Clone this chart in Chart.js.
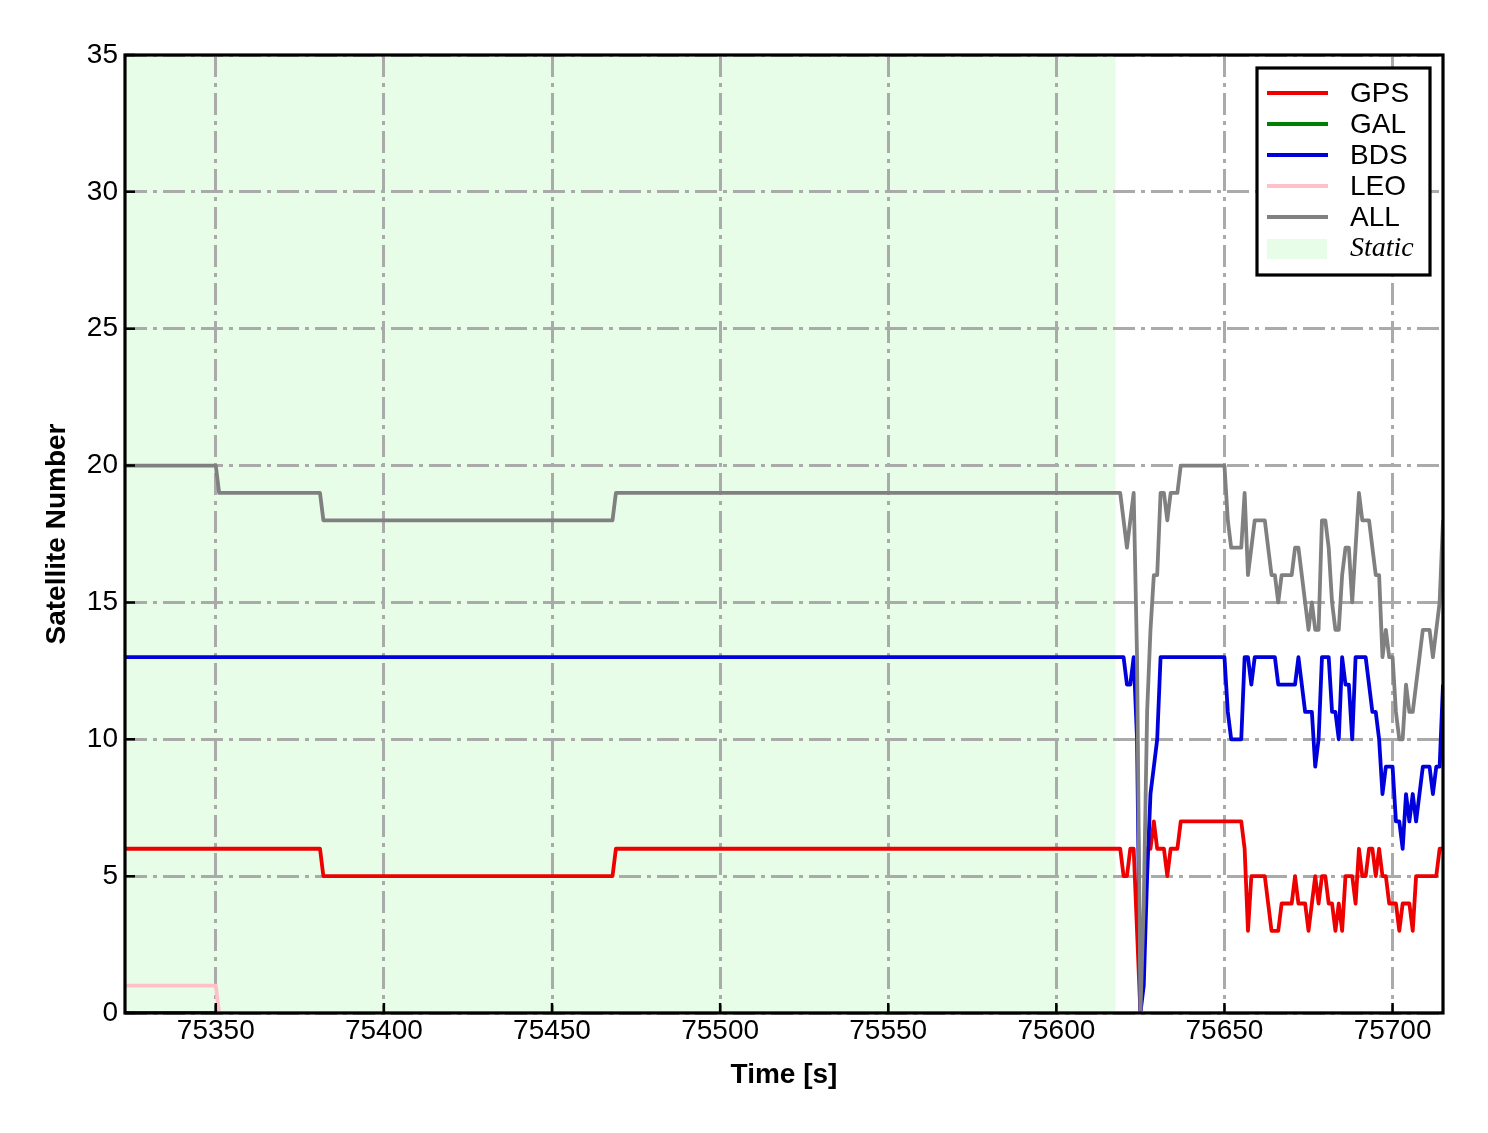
<!DOCTYPE html>
<html>
<head>
<meta charset="utf-8">
<script src="https://cdn.jsdelivr.net/npm/chart.js@4.4.1/dist/chart.umd.min.js"></script>
<style>
  html, body { margin: 0; padding: 0; background: #fff; }
  #wrap { width: 1488px; height: 1133px; }
</style>
</head>
<body>
<div id="wrap"><canvas id="c" width="1488" height="1133"></canvas></div>
<script>
// epochs (s); static part only at the breakpoints, then every second
const times = [75323, 75350, 75351, 75381, 75382, 75468, 75469,
  75618, 75619, 75620, 75621, 75622, 75623, 75624, 75625, 75626, 75627,
  75628, 75629, 75630, 75631, 75632, 75633, 75634, 75635, 75636, 75637,
  75638, 75639, 75640, 75641, 75642, 75643, 75644, 75645, 75646, 75647,
  75648, 75649, 75650, 75651, 75652, 75653, 75654, 75655, 75656, 75657,
  75658, 75659, 75660, 75661, 75662, 75663, 75664, 75665, 75666, 75667,
  75668, 75669, 75670, 75671, 75672, 75673, 75674, 75675, 75676, 75677,
  75678, 75679, 75680, 75681, 75682, 75683, 75684, 75685, 75686, 75687,
  75688, 75689, 75690, 75691, 75692, 75693, 75694, 75695, 75696, 75697,
  75698, 75699, 75700, 75701, 75702, 75703, 75704, 75705, 75706, 75707,
  75708, 75709, 75710, 75711, 75712, 75713, 75714, 75715];

const gps = [6, 6, 6, 6, 5, 5, 6,
  6, 6, 5, 5, 6, 6, 3, 0, 3, 6,
  6, 7, 6, 6, 6, 5, 6, 6, 6, 7,
  7, 7, 7, 7, 7, 7, 7, 7, 7, 7,
  7, 7, 7, 7, 7, 7, 7, 7, 6, 3,
  5, 5, 5, 5, 5, 4, 3, 3, 3, 4,
  4, 4, 4, 5, 4, 4, 4, 3, 4, 5,
  4, 5, 5, 4, 4, 3, 4, 3, 5, 5,
  5, 4, 6, 5, 5, 6, 6, 5, 6, 5,
  5, 4, 4, 4, 3, 4, 4, 4, 3, 5,
  5, 5, 5, 5, 5, 5, 6, 6];

const bds = [13, 13, 13, 13, 13, 13, 13,
  13, 13, 13, 12, 12, 13, 10, 0, 1, 5,
  8, 9, 10, 13, 13, 13, 13, 13, 13, 13,
  13, 13, 13, 13, 13, 13, 13, 13, 13, 13,
  13, 13, 13, 11, 10, 10, 10, 10, 13, 13,
  12, 13, 13, 13, 13, 13, 13, 13, 12, 12,
  12, 12, 12, 12, 13, 12, 11, 11, 11, 9,
  10, 13, 13, 13, 11, 11, 10, 13, 12, 12,
  10, 13, 13, 13, 13, 12, 11, 11, 10, 8,
  9, 9, 9, 7, 7, 6, 8, 7, 8, 7,
  8, 9, 9, 9, 8, 9, 9, 12];

const all = [20, 20, 19, 19, 18, 18, 19,
  19, 19, 18, 17, 18, 19, 13, 0, 4, 11,
  14, 16, 16, 19, 19, 18, 19, 19, 19, 20,
  20, 20, 20, 20, 20, 20, 20, 20, 20, 20,
  20, 20, 20, 18, 17, 17, 17, 17, 19, 16,
  17, 18, 18, 18, 18, 17, 16, 16, 15, 16,
  16, 16, 16, 17, 17, 16, 15, 14, 15, 14,
  14, 18, 18, 17, 15, 14, 14, 16, 17, 17,
  15, 17, 19, 18, 18, 18, 17, 16, 16, 13,
  14, 13, 13, 11, 10, 10, 12, 11, 11, 12,
  13, 14, 14, 14, 13, 14, 15, 18];

const galTimes = [75323, 75715];
const gal = [0, 0];
const leoTimes = [75323, 75350, 75351, 75715];
const leo = [1, 1, 0, 0];

const xRange = [75323, 75715];
const xTicks = [75350, 75400, 75450, 75500, 75550, 75600, 75650, 75700];
const yTicks = [0, 5, 10, 15, 20, 25, 30, 35];
const staticSpan = [75323, 75617.6];

const FONT = 'Liberation Sans, Arial, sans-serif';

const series = [
  { label: 'GPS', t: times, v: gps, color: '#ee0000' },
  { label: 'GAL', t: galTimes, v: gal, color: '#008000' },
  { label: 'BDS', t: times, v: bds, color: '#0000dd' },
  { label: 'LEO', t: leoTimes, v: leo, color: '#ffc0cb' },
  { label: 'ALL', t: times, v: all, color: '#808080' }
];

const datasets = series.map((s, i) => ({
  label: s.label,
  data: s.t.map((t, k) => ({ x: t, y: s.v[k] })),
  borderColor: s.color,
  backgroundColor: s.color,
  borderWidth: 3.8,
  pointRadius: 0,
  tension: 0,
  fill: false,
  borderJoinStyle: 'round',
  order: series.length - i
}));

const shadePlugin = {
  id: 'staticShade',
  beforeDraw(chart) {
    const { ctx, chartArea: a, scales: { x } } = chart;
    const x0 = Math.max(a.left, x.getPixelForValue(staticSpan[0]));
    const x1 = x.getPixelForValue(staticSpan[1]);
    ctx.save();
    ctx.fillStyle = '#e8fde8';
    ctx.fillRect(x0, a.top, x1 - x0, a.bottom - a.top);
    ctx.restore();
  }
};

const framePlugin = {
  id: 'frame',
  afterDraw(chart) {
    const { ctx, chartArea: a, scales: { x, y } } = chart;
    ctx.save();
    ctx.strokeStyle = '#000';
    ctx.lineWidth = 2.5;
    ctx.beginPath();
    xTicks.forEach(v => {
      const px = x.getPixelForValue(v);
      ctx.moveTo(px, a.bottom);
      ctx.lineTo(px, a.bottom - 10);
    });
    yTicks.forEach(v => {
      const py = y.getPixelForValue(v);
      ctx.moveTo(a.left, py);
      ctx.lineTo(a.left + 10, py);
    });
    ctx.stroke();
    ctx.lineWidth = 3.2;
    ctx.strokeRect(a.left, a.top, a.right - a.left, a.bottom - a.top);

    // legend box, top right inside the axes
    const bw = 173, bh = 207;
    const bx = a.right - 186, by = a.top + 13;
    ctx.fillStyle = '#fff';
    ctx.fillRect(bx, by, bw, bh);
    ctx.lineWidth = 3.2;
    ctx.strokeRect(bx, by, bw, bh);
    ctx.textBaseline = 'middle';
    ctx.textAlign = 'left';
    chart.data.datasets.forEach((ds, i) => {
      const ry = by + 25 + i * 31;
      ctx.strokeStyle = ds.borderColor;
      ctx.lineWidth = 4;
      ctx.beginPath();
      ctx.moveTo(bx + 10, ry);
      ctx.lineTo(bx + 71, ry);
      ctx.stroke();
      ctx.fillStyle = '#000';
      ctx.font = '28px ' + FONT;
      ctx.fillText(ds.label, bx + 93, ry + 1);
    });
    const sy = by + 25 + 5 * 31 + 1;
    ctx.fillStyle = '#e8fde8';
    ctx.fillRect(bx + 10, sy - 10, 60, 20);
    ctx.fillStyle = '#000';
    ctx.font = 'italic 28px Liberation Serif, Times New Roman, serif';
    ctx.fillText('Static', bx + 93, sy);
    ctx.restore();
  }
};

const gridStyle = { color: '#aaaaaa', lineWidth: 3, drawTicks: false };

new Chart(document.getElementById('c'), {
  type: 'line',
  data: { datasets },
  options: {
    responsive: false,
    animation: false,
    devicePixelRatio: 1,
    layout: { padding: { top: 55, right: 45, left: 0, bottom: 0 } },
    plugins: { legend: { display: false }, tooltip: { enabled: false } },
    scales: {
      x: {
        type: 'linear',
        min: xRange[0],
        max: xRange[1],
        afterBuildTicks: s => { s.ticks = xTicks.map(v => ({ value: v })); },
        afterFit: s => { s.height = 120; },
        grid: gridStyle,
        border: { display: false, dash: [22, 6, 4, 6] },
        ticks: {
          autoSkip: false, maxRotation: 0, padding: 1, color: '#000',
          font: { family: FONT, size: 28 },
          callback: v => String(v)
        },
        title: {
          display: true, text: 'Time [s]', color: '#000',
          font: { family: FONT, size: 28, weight: 'bold' },
          padding: { top: 0, bottom: 41 }
        }
      },
      y: {
        min: 0,
        max: 35,
        afterBuildTicks: s => { s.ticks = yTicks.map(v => ({ value: v })); },
        afterFit: s => { s.width = 125; },
        grid: gridStyle,
        border: { display: false, dash: [22, 6, 4, 6] },
        ticks: {
          padding: 7, color: '#000',
          font: { family: FONT, size: 28 }
        },
        title: {
          display: true, text: 'Satellite Number', color: '#000',
          font: { family: FONT, size: 28, weight: 'bold' },
          padding: { top: 40, bottom: 0 }
        }
      }
    }
  },
  plugins: [shadePlugin, framePlugin]
});
</script>
</body>
</html>
